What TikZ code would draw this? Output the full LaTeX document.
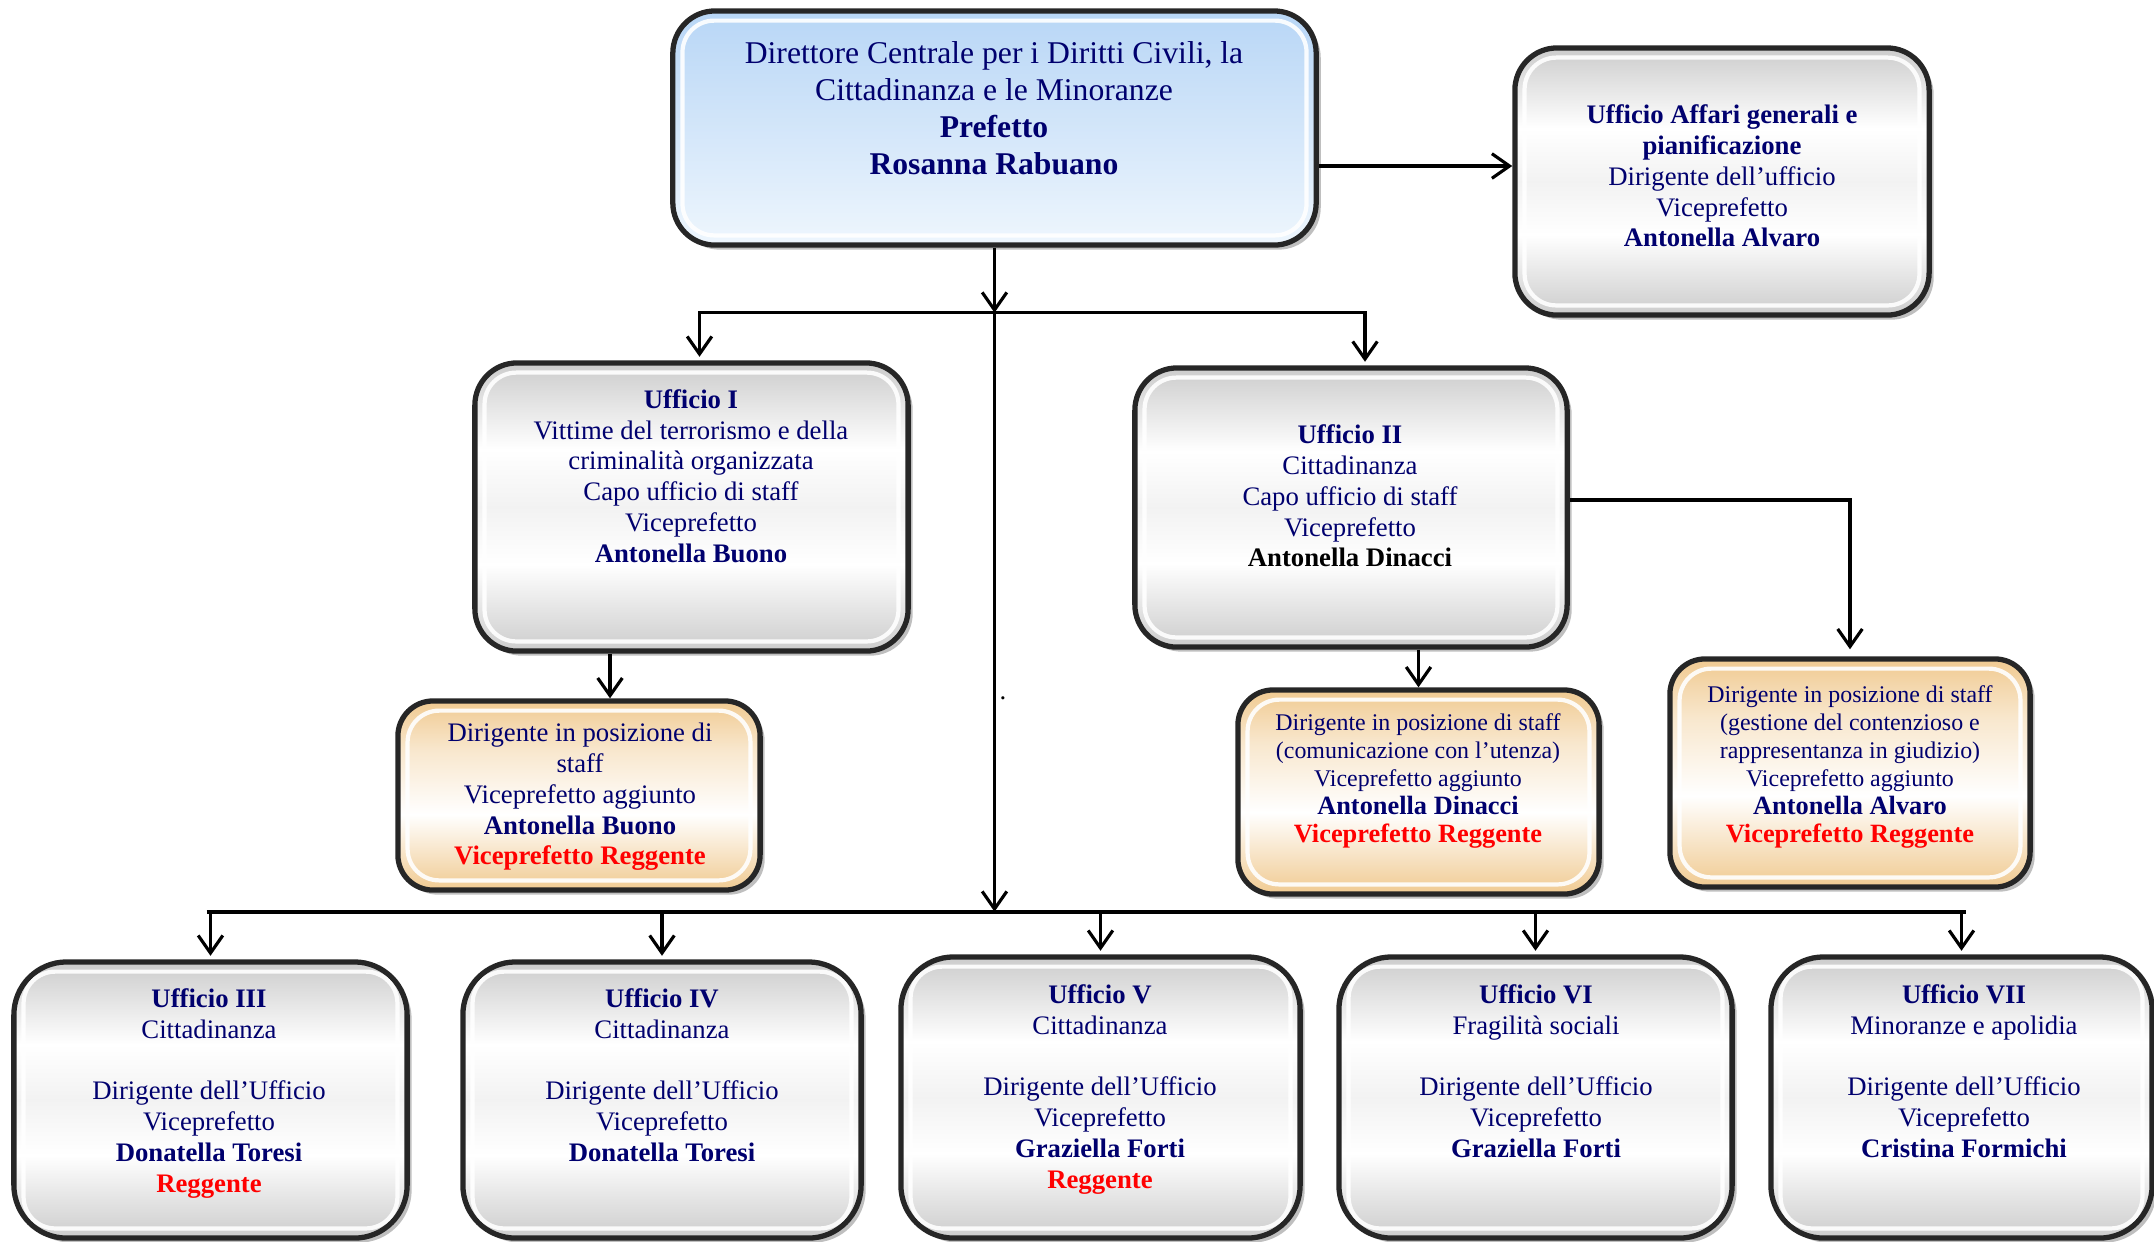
\documentclass[tikz,border=0pt]{standalone}
\usepackage{fontspec}
\setmainfont{Liberation Serif}
\usetikzlibrary{calc,positioning,arrows.meta,shadows}

\definecolor{navy}{RGB}{0,0,110}
\definecolor{rosso}{RGB}{255,0,0}
\definecolor{celesteA}{RGB}{184,214,246}
\definecolor{celesteB}{RGB}{238,246,253}
\definecolor{grigioA}{RGB}{204,204,204}
\definecolor{sabbiaA}{RGB}{240,202,145}

\pgfdeclareverticalshading{grigio}{100bp}{color(0bp)=(grigioA); color(25bp)=(grigioA);
  color(40bp)=(white); color(50bp)=(black!5); color(60bp)=(white); color(75bp)=(grigioA); color(100bp)=(grigioA)}
\pgfdeclareverticalshading{sabbia}{100bp}{color(0bp)=(sabbiaA); color(25bp)=(sabbiaA);
  color(45bp)=(white); color(62bp)=(sabbiaA!45); color(75bp)=(sabbiaA); color(100bp)=(sabbiaA)}

\begin{document}
\begin{tikzpicture}[x=0.01cm,y=-0.01cm,line width=0.9pt,
    >={Straight Barb[length=5pt,width=7pt]},
    box/.style={rectangle,draw=black!85,line width=1.5pt,rounded corners=12pt,
      drop shadow={shadow xshift=1.3pt,shadow yshift=-1.3pt,opacity=0.5}},
    grigiobox/.style={box,shade,shading=grigio},
    celestebox/.style={box,top color=celesteA,bottom color=celesteB},
    sabbiabox/.style={box,shade,shading=sabbia,rounded corners=10pt},
    bevel/.style={draw=white,line width=1.2pt,rounded corners=9pt,opacity=0.9},
    testo/.style={align=center,inner sep=0pt,text=navy,font=\fontsize{7.6}{8.75}\selectfont},
    piccolo/.style={testo,font=\fontsize{6.8}{8}\selectfont}]
  \useasboundingbox (0,0) rectangle (2154,1241);

  % boxes
  \node[celestebox,minimum width=6.43cm,minimum height=2.34cm] (dir) at (994.5,128) {};
  \node[grigiobox,minimum width=4.14cm,minimum height=2.67cm] (aff) at (1722,181.5) {};
  \node[grigiobox,minimum width=4.33cm,minimum height=2.88cm] (u1) at (691.5,507) {};
  \node[grigiobox,minimum width=4.32cm,minimum height=2.79cm] (u2) at (1351,507.5) {};
  \node[sabbiabox,minimum width=3.62cm,minimum height=1.89cm] (s1) at (579,795.5) {};
  \node[sabbiabox,minimum width=3.61cm,minimum height=2.04cm] (s2) at (1418.5,792) {};
  \node[sabbiabox,minimum width=3.60cm,minimum height=2.28cm] (s3) at (1850,773) {};
  \node[grigiobox,rounded corners=15pt,minimum width=3.93cm,minimum height=2.76cm] (u3) at (210.5,1100) {};
  \node[grigiobox,rounded corners=15pt,minimum width=3.98cm,minimum height=2.76cm] (u4) at (662,1100) {};
  \node[grigiobox,rounded corners=15pt,minimum width=3.99cm,minimum height=2.81cm] (u5) at (1100.5,1097.5) {};
  \node[grigiobox,rounded corners=15pt,minimum width=3.93cm,minimum height=2.81cm] (u6) at (1535.5,1097.5) {};
  \node[grigiobox,rounded corners=15pt,minimum width=3.81cm,minimum height=2.81cm] (u7) at (1961.5,1097.5) {};

  \foreach \b in {dir,aff,u1,u2,s1,s2,s3,u3,u4,u5,u6,u7}
    \draw[bevel] ([shift={(3.5pt,3.5pt)}]\b.south west) rectangle ([shift={(-3.5pt,-3.5pt)}]\b.north east);

  % texts
  \node[testo,font=\fontsize{9}{10.5}\selectfont] (dirt) at (994,108)
    {Direttore Centrale per i Diritti Civili, la\\Cittadinanza e le Minoranze\\\textbf{Prefetto}\\\textbf{Rosanna Rabuano}};
  \node[testo] (afft) at (1722,176)
    {\textbf{Ufficio Affari generali e}\\\textbf{pianificazione}\\Dirigente dell’ufficio\\Viceprefetto\\\textbf{Antonella Alvaro}};
  \node[testo] (u1t) at (691,476)
    {\textbf{Ufficio I}\\Vittime del terrorismo e della\\criminalità organizzata\\Capo ufficio di staff\\Viceprefetto\\\textbf{Antonella Buono}};
  \node[testo] (u2t) at (1350,496)
    {\textbf{Ufficio II}\\Cittadinanza\\Capo ufficio di staff\\Viceprefetto\\\textcolor{black}{\textbf{Antonella Dinacci}}};
  \node[testo] (s1t) at (580,797)
    {Dirigente in posizione di\\staff\\Viceprefetto aggiunto\\\textbf{Antonella Buono}\\\textcolor{rosso}{\textbf{Viceprefetto Reggente}}};
  \node[piccolo] (s2t) at (1418,781)
    {Dirigente in posizione di staff\\(comunicazione con l’utenza)\\Viceprefetto aggiunto\\{\fontsize{7.5}{8}\selectfont\bfseries Antonella Dinacci}\\{\fontsize{7.5}{8}\selectfont\bfseries\color{rosso}Viceprefetto Reggente}};
  \node[piccolo] (s3t) at (1850,767)
    {Dirigente in posizione di staff\\(gestione del contenzioso e\\rappresentanza in giudizio)\\Viceprefetto aggiunto\\{\fontsize{7.5}{8}\selectfont\bfseries Antonella Alvaro}\\{\fontsize{7.5}{8}\selectfont\bfseries\color{rosso}Viceprefetto Reggente}};
  \node[testo,anchor=north] (u3t) at (209,987)
    {\textbf{Ufficio III}\\Cittadinanza\\[8.75pt]Dirigente dell’Ufficio\\Viceprefetto\\\textbf{Donatella Toresi}\\\textcolor{rosso}{\textbf{Reggente}}};
  \node[testo,anchor=north] (u4t) at (662,987)
    {\textbf{Ufficio IV}\\Cittadinanza\\[8.75pt]Dirigente dell’Ufficio\\Viceprefetto\\\textbf{Donatella Toresi}};
  \node[testo,anchor=north] (u5t) at (1100,983)
    {\textbf{Ufficio V}\\Cittadinanza\\[8.75pt]Dirigente dell’Ufficio\\Viceprefetto\\\textbf{Graziella Forti}\\\textcolor{rosso}{\textbf{Reggente}}};
  \node[testo,anchor=north] (u6t) at (1536,983)
    {\textbf{Ufficio VI}\\Fragilità sociali\\[8.75pt]Dirigente dell’Ufficio\\Viceprefetto\\\textbf{Graziella Forti}};
  \node[testo,anchor=north] (u7t) at (1964,983)
    {\textbf{Ufficio VII}\\Minoranze e apolidia\\[8.75pt]Dirigente dell’Ufficio\\Viceprefetto\\\textbf{Cristina Formichi}};
  \node[inner sep=0pt,font=\fontsize{7.6}{8}\selectfont] (punto) at (1003,698) {.};

  % connectors
  \coordinate (br) at ($(dir.south)+(0,65)$);
  \coordinate (bus) at ($(br)+(0,599)$);
  \draw[->] ([yshift=0.155cm]dir.east |- aff.west) -- ([yshift=0.155cm]aff.west);
  \draw[->] (dir.south) -- (br);
  \draw[->,shorten >=1pt] (br) -| ([xshift=0.08cm]u1.north);
  \draw[->,shorten >=1pt] (br) -| ([xshift=0.14cm]u2.north);
  \draw[->] (br) -- (bus);
  \draw[->] ([xshift=0.31cm]s1.north |- u1.south) -- ([xshift=0.31cm]s1.north);
  \draw[->] (s2.north |- u2.south) -- (s2.north);
  \draw[->,shorten >=2pt] ([yshift=0.075cm]u2.east) -| (s3.north);
  \draw[line width=1.2pt] ([xshift=-0.04cm]u3.north |- bus) -- ([xshift=0.04cm]u7.north |- bus);
  \foreach \u in {u3,u4,u5,u6,u7}
    \draw[->,shorten >=1pt] (\u.north |- bus) -- (\u.north);
\end{tikzpicture}
\end{document}
